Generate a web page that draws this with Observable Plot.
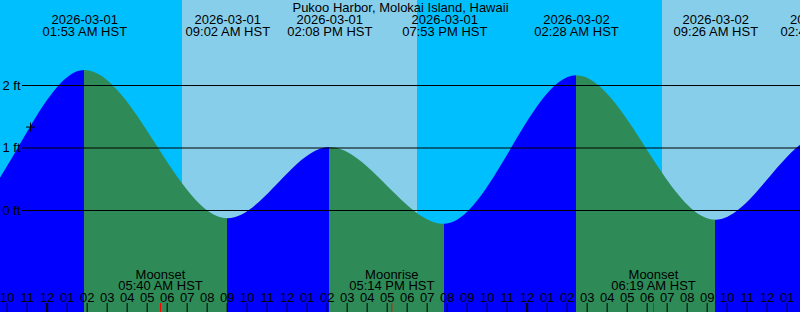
<!DOCTYPE html>
<html><head><meta charset="utf-8">
<script src="https://cdn.jsdelivr.net/npm/d3@7"></script>
<script src="https://cdn.jsdelivr.net/npm/@observablehq/plot@0.6"></script>
<style>
html,body{margin:0;padding:0;overflow:hidden;background:#fff}
#chart svg{display:block}
</style></head><body><div id="chart"></div>
<script>
// ---- data (times are local HST, stored as wall-clock strings) ----
const stationName = "Pukoo Harbor, Molokai Island, Hawaii";
const zoneLabel = "HST";
const domainStart = "2026-02-28T21:40";
const domainEnd = "2026-03-02T13:40";
// highs and lows; the first and last entries are off-chart anchors
const tideTimes = ["2026-02-28T13:30","2026-02-28T19:25","2026-03-01T01:53","2026-03-01T09:02","2026-03-01T14:08","2026-03-01T19:53","2026-03-02T02:28","2026-03-02T09:26","2026-03-02T14:48","2026-03-02T20:40"];
const tideHeights = [1.05, -0.15, 2.24, -0.13, 1.01, -0.22, 2.155, -0.155, 1.2, -0.25];
const sunTimes = ["2026-03-01T06:46","2026-03-01T18:31","2026-03-02T06:46"];
const sunEvents = ["Sunrise","Sunset","Sunrise"];
const moonTimes = ["2026-03-01T05:40","2026-03-01T17:14","2026-03-02T06:19"];
const moonEvents = ["Moonset","Moonrise","Moonset"];
const levelTicks = [0, 1, 2];
const nowTimes = ["2026-02-28T23:10"];
const nowHeights = [1.335];
const yDomain = [-1.632, 3.36];

// ---- colours ----
const nightColor = "#00bfff", dayColor = "#87ceeb";
const risingColor = "#0000ff", fallingColor = "#2e8b57";

const parse = d3.utcParse("%Y-%m-%dT%H:%M");
const fmtDate = d3.utcFormat("%Y-%m-%d");
const fmtTime = d3.utcFormat("%I:%M %p");
const fmtHour = d3.utcFormat("%I");
const start = parse(domainStart), end = parse(domainEnd);

const tide = tideTimes.map((t, i) => ({time: parse(t), height: tideHeights[i]}));
const bounds = [start, ...sunTimes.map(parse), end];
const sky = d3.pairs(bounds).map(([a, b], i) => ({
  start: a, end: b,
  day: i === 0 ? sunEvents[0] === "Sunset" : sunEvents[i - 1] === "Sunrise"
}));
const moon = moonTimes.map((t, i) => ({time: parse(t), name: moonEvents[i]}));
const hours = d3.utcHour.range(start, end);
const midnights = d3.utcDay.range(start, end).filter(d => d > start);
const now = nowTimes.map((t, i) => ({time: parse(t), height: nowHeights[i]}));

const chart = Plot.plot({
  width: 800, height: 312, margin: 0,
  x: {type: "utc", domain: [start, end], axis: null},
  y: {domain: yDomain, axis: null},
  color: {type: "identity"},
  style: {fontFamily: "'Liberation Sans', Arial, sans-serif", fontSize: "13px", color: "black", background: "transparent"},
  marks: [
    Plot.rect(sky, {x1: "start", x2: "end", fill: d => d.day ? dayColor : nightColor}),
    Plot.areaY(tide, {x: "time", y1: yDomain[0], y2: "height", curve: "monotone-x", fill: "url(#tide-fill)", clip: true}),
    Plot.ruleY(levelTicks, {stroke: "black", insetLeft: 22}),
    Plot.text(levelTicks, {y: d => d, text: d => `${d} ft`, frameAnchor: "left", textAnchor: "start", dx: 2, fill: "black"}),
    Plot.text([stationName], {text: d => d, frameAnchor: "top", lineAnchor: "bottom", dy: 11, fill: "black"}),
    Plot.text(tide, {x: "time", text: d => fmtDate(d.time), frameAnchor: "top", lineAnchor: "bottom", dy: 23.3, fill: "black"}),
    Plot.text(tide, {x: "time", text: d => `${fmtTime(d.time)} ${zoneLabel}`, frameAnchor: "top", lineAnchor: "bottom", dy: 35.7, fill: "black"}),
    Plot.text(moon, {x: "time", text: "name", frameAnchor: "bottom", lineAnchor: "bottom", dy: -34, fill: "black"}),
    Plot.text(moon, {x: "time", text: d => `${fmtTime(d.time)} ${zoneLabel}`, frameAnchor: "bottom", lineAnchor: "bottom", dy: -22.7, fill: "black"}),
    Plot.text(hours, {x: d => d, text: d => fmtHour(d), frameAnchor: "bottom", lineAnchor: "bottom", dy: -10.3, fill: "black"}),
    Plot.ruleX(hours, {x: d => d, insetTop: 303, stroke: "black"}),
    Plot.ruleX(midnights, {x: d => d, insetTop: 303, stroke: "black", strokeWidth: 2}),
    Plot.ruleX(moon, {x: "time", insetTop: 303, stroke: "red"}),
    Plot.dot(now, {x: "time", y: "height", symbol: "plus", r: 3, stroke: "black", strokeWidth: 1})
  ]
});

// hard-edged gradient: blue while rising, green while falling, placed by the x scale
const xs = chart.scale("x");
const W = 800;
const clamp01 = v => Math.max(0, Math.min(1, v));
const stops = [];
d3.pairs(tide).forEach(([a, b]) => {
  const c = b.height > a.height ? risingColor : fallingColor;
  stops.push({o: clamp01(xs.apply(a.time) / W), c}, {o: clamp01(xs.apply(b.time) / W), c});
});
const svg = d3.select(chart);
const grad = svg.insert("defs", ":first-child").append("linearGradient")
  .attr("id", "tide-fill").attr("gradientUnits", "userSpaceOnUse")
  .attr("x1", 0).attr("y1", 0).attr("x2", W).attr("y2", 0);
stops.forEach(s => grad.append("stop").attr("offset", s.o).attr("stop-color", s.c));

document.getElementById("chart").appendChild(chart);
</script></body></html>
